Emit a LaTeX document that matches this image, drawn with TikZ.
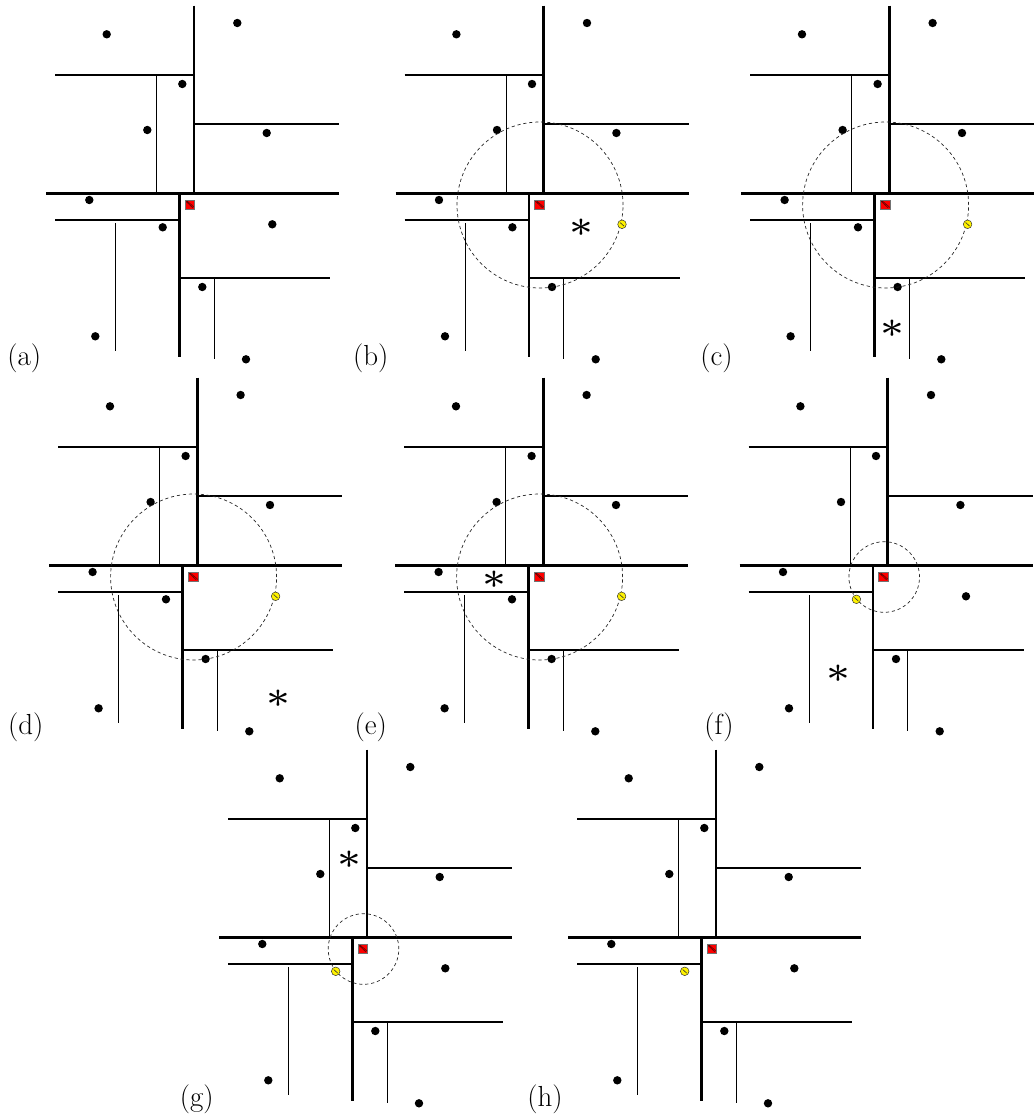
\documentclass[tikz,border=0pt]{standalone}
\tikzset{
  cut0/.style={line width=3.3pt},
  cut1/.style={line width=2.7pt},
  cut2/.style={line width=1.7pt},
  cut3/.style={line width=1pt},
  ball/.style={draw=black!85, line width=0.7pt, dash pattern=on 3.2pt off 2.8pt},
  visit/.style={font=\fontsize{5}{6}\selectfont, inner sep=0pt, anchor=base, yshift=-20.5pt, scale=7.6},
  tag/.style={font=\fontsize{29}{32}\selectfont, inner sep=0pt},
}
% splitting lines of the kd-tree
\newcommand\kdlines{%
  \draw[cut2] (55,75) -- (194,75);
  \draw[cut2] (194,124.3) -- (339,124.3);
  \draw[cut2] (55,220) -- (179.3,220);
  \draw[cut2] (179.3,277.7) -- (330,277.7);
  \draw[cut3] (156.3,75) -- (156.3,193.3);
  \draw[cut3] (115.3,223.3) -- (115.3,350.7);
  \draw[cut3] (214,277.7) -- (214,359.3);
  \draw[cut1] (194,5.7) -- (194,193.3);
  \draw[cut1] (179.3,193.3) -- (179.3,356.7);
  \draw[cut0] (46,193.3) -- (339,193.3);
}
% data points; #1 = index of the point drawn as current nearest (0 = none)
\newcommand\kddots[1]{%
  \foreach \k/\px/\py in {1/106.7/34.3, 2/237.3/23, 3/182.3/84, 4/147.3/130,
      5/266.7/133, 6/89.3/200, 7/162.7/227.3, 8/272.3/224.3, 9/202.3/287,
      10/95.3/336.3, 11/246/359.3}{%
    \ifnum\k=#1\relax\else\fill (\px,\py) circle[radius=4.2pt];\fi
  }%
}
% query point
\newcommand\kdquery{%
  \begin{scope}
    \clip (185,200) rectangle (194.6,209.2);
    \fill[red] (185,200) rectangle (194.6,209.2);
    \draw[red!40!black, line width=0.6pt] (185,200.5) -- (193,208) (187,201) -- (194.6,207.5);
  \end{scope}
  \draw[black!55, line width=0.5pt] (185,200) rectangle (194.6,209.2);
}
% current nearest neighbour
\newcommand\kdnearest[2]{%
  \fill[yellow] (#1,#2) circle[radius=4.3pt];
  \draw[black!80, line width=0.5pt] (#1,#2) circle[radius=4.3pt];
  \draw[black!80, line width=0.6pt] (#1-2,#2-1.8) .. controls (#1+1,#2-1) and (#1-1,#2+1) .. (#1+2,#2+1.8);
}
\begin{document}
\begin{tikzpicture}[x=1pt, y=-1pt]
  \useasboundingbox (0,0) rectangle (1034,1118);

  % (a)
  \begin{scope}[shift={(0,0)}]
    \kdlines \kddots{0} \kdquery
  \end{scope}
  \node[tag] (la) at (24.2,358) {(a)};

  % (b)
  \begin{scope}[shift={(349.7,0)}]
    \kdlines \kddots{8}
    \draw[ball] (190.3,205) circle[radius=83pt];
    \kdquery \kdnearest{272.3}{224.3}
    \node[visit] (sb) at (231.3,226.7) {*};
  \end{scope}
  \node[tag] (lb) at (370.7,358) {(b)};

  % (c)
  \begin{scope}[shift={(695.3,0)}]
    \kdlines \kddots{8}
    \draw[ball] (190.3,205) circle[radius=83pt];
    \kdquery \kdnearest{272.3}{224.3}
    \node[visit] (sc) at (197,328.3) {*};
  \end{scope}
  \node[tag] (lc) at (716.4,358) {(c)};

  % (d)
  \begin{scope}[shift={(3.3,372)}]
    \kdlines \kddots{8}
    \draw[ball] (190.3,205) circle[radius=83pt];
    \kdquery \kdnearest{272.3}{224.3}
    \node[visit] (sd) at (275,325.7) {*};
  \end{scope}
  \node[tag] (ld) at (25.8,727.5) {(d)};

  % (e)
  \begin{scope}[shift={(349.3,372)}]
    \kdlines \kddots{8}
    \draw[ball] (190.3,205) circle[radius=83pt];
    \kdquery \kdnearest{272.3}{224.3}
    \node[visit] (se) at (144.7,207.3) {*};
  \end{scope}
  \node[tag] (le) at (370.8,727.5) {(e)};

  % (f)
  \begin{scope}[shift={(693.7,372)}]
    \kdlines \kddots{7}
    \draw[ball] (190.5,205) circle[radius=35.3pt];
    \kdquery \kdnearest{162.7}{227.3}
    \node[visit] (sf) at (144.3,300.7) {*};
  \end{scope}
  \node[tag] (lf) at (719,727.5) {(f)};

  % (g)
  \begin{scope}[shift={(173,744)}]
    \kdlines \kddots{7}
    \draw[ball] (190.5,205) circle[radius=35.3pt];
    \kdquery \kdnearest{162.7}{227.3}
    \node[visit] (sg) at (176.3,114.7) {*};
  \end{scope}
  \node[tag] (lg) at (196.7,1099.5) {(g)};

  % (h)
  \begin{scope}[shift={(522,744)}]
    \kdlines \kddots{7}
    \kdquery \kdnearest{162.7}{227.3}
  \end{scope}
  \node[tag] (lh) at (545,1099.5) {(h)};
\end{tikzpicture}
\end{document}
